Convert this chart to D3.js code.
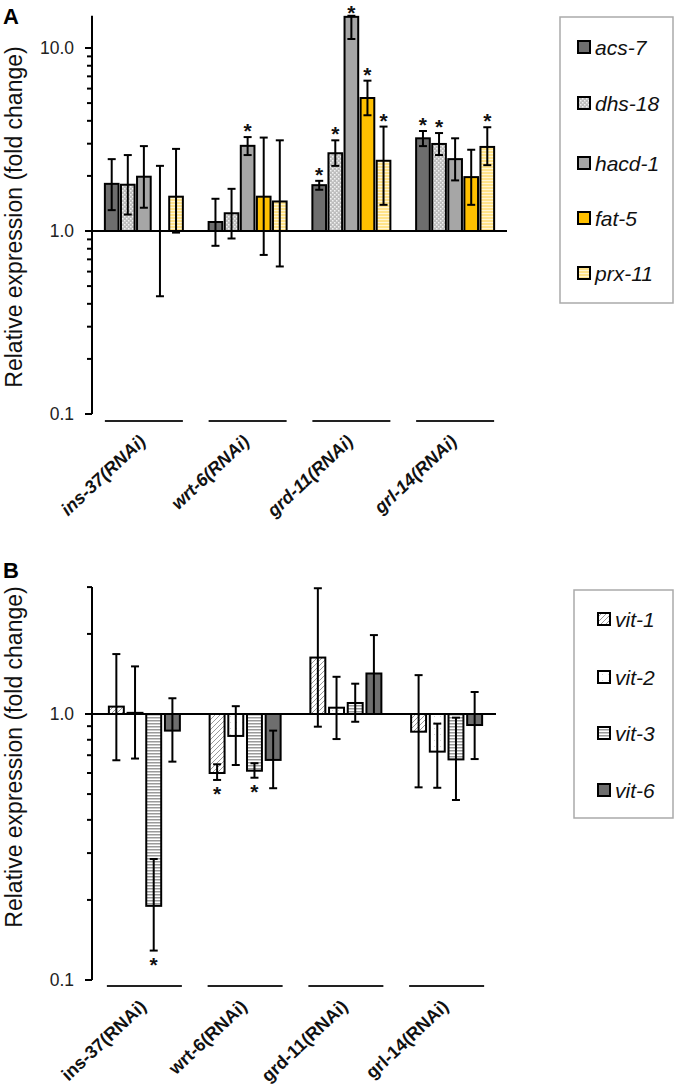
<!DOCTYPE html>
<html><head><meta charset="utf-8">
<script src="https://cdn.jsdelivr.net/npm/d3@7"></script>
<style>
body{margin:0;background:#fff;}
svg{font-family:"Liberation Sans",Arial,sans-serif;}
</style></head>
<body>
<svg id="chart" width="677" height="1090"></svg>
<script>
// ---------- Panel A data ----------
const aGroups = ["ins-37(RNAi)","wrt-6(RNAi)","grd-11(RNAi)","grl-14(RNAi)"];
const aGenes = ["acs-7","dhs-18","hacd-1","fat-5","prx-11"];
const aValues = [
  [1.81,1.79,1.98,1.00,1.54],
  [1.12,1.25,2.92,1.54,1.45],
  [1.78,2.66,14.8,5.33,2.42],
  [3.21,2.99,2.47,1.97,2.88]
];
const aErrHigh = [
  [2.47,2.60,2.91,2.27,2.81],
  [1.50,1.70,3.26,3.24,3.13],
  [1.88,3.13,15.0,6.63,3.72],
  [3.52,3.43,3.21,2.78,3.69]
];
const aErrLow = [
  [1.30,1.23,1.34,0.44,0.98],
  [0.83,0.91,2.60,0.74,0.64],
  [1.68,2.27,11.2,4.29,1.39],
  [2.91,2.60,1.89,1.39,2.29]
];
const aSig = [
  [0,0,0,0,0],
  [0,0,1,0,0],
  [1,1,1,1,1],
  [1,1,0,0,1]
];
const aTicks = [0.1,1,10];
const aTickLabels = ["0.1","1.0","10.0"];

// ---------- Panel B data ----------
const bGroups = ["ins-37(RNAi)","wrt-6(RNAi)","grd-11(RNAi)","grl-14(RNAi)"];
const bGenes = ["vit-1","vit-2","vit-3","vit-6"];
const bValues = [
  [1.066,1.01,0.19,0.866],
  [0.60,0.827,0.612,0.672],
  [1.63,1.056,1.10,1.42],
  [0.858,0.722,0.675,0.909]
];
const bErrHigh = [
  [1.68,1.51,0.285,1.146],
  [0.647,1.07,0.653,0.866],
  [2.97,1.38,1.30,1.98],
  [1.40,0.92,0.969,1.21]
];
const bErrLow = [
  [0.67,0.68,0.129,0.662],
  [0.565,0.643,0.576,0.526],
  [0.896,0.805,0.935,1.00],
  [0.53,0.528,0.475,0.677]
];
const bSig = [
  [0,0,1,0],
  [1,0,1,0],
  [0,0,0,0],
  [0,0,0,0]
];
const bTicks = [0.1,1];
const bTickLabels = ["0.1","1.0"];

const svg = d3.select("#chart");
const defs = svg.append("defs");

function pat(id, w, h, bg, draw){
  const p = defs.append("pattern").attr("id",id).attr("patternUnits","userSpaceOnUse")
    .attr("width",w).attr("height",h);
  p.append("rect").attr("width",w).attr("height",h).attr("fill",bg);
  draw(p);
}
pat("pDots",4,4,"#bdbdbd",p=>{
  p.append("rect").attr("x",0).attr("y",0).attr("width",1.5).attr("height",1.5).attr("fill","#f2f2f2");
  p.append("rect").attr("x",2).attr("y",2).attr("width",1.5).attr("height",1.5).attr("fill","#f2f2f2");
});
pat("pYellowStripe",4,3,"#ffe38a",p=>{
  p.append("rect").attr("x",0).attr("y",0).attr("width",4).attr("height",1).attr("fill","#fff6d6");
});
pat("pDiag",5,5,"#ffffff",p=>{
  p.append("path").attr("d","M-1,6 L6,-1 M-1,1 L1,-1 M4,6 L6,4").attr("stroke","#9a9a9a").attr("stroke-width",1);
});
pat("pWhiteDot",6,6,"#ffffff",p=>{
  p.append("rect").attr("x",2).attr("y",2).attr("width",1).attr("height",1).attr("fill","#d0d0d0");
});
pat("pHStripe",4,3,"#ffffff",p=>{
  p.append("rect").attr("x",0).attr("y",0).attr("width",4).attr("height",1.5).attr("fill","#9a9a9a");
});

const aFills = ["#6e6e6e","url(#pDots)","#a6a6a6","#ffc000","url(#pYellowStripe)"];
const bFills = ["url(#pDiag)","url(#pWhiteDot)","url(#pHStripe)","#6e6e6e"];

function drawPanel(cfg){
  const g = svg.append("g");
  const y = d3.scaleLog().domain([0.1, 1]).range([cfg.y01, cfg.y1]);
  const yTop = y(cfg.axisMax);
  const x = d3.scaleBand().domain(cfg.groups).range([cfg.x0, cfg.x1]);
  const inner = d3.scaleBand().domain(cfg.genes).range([-cfg.innerW/2, cfg.innerW/2]).paddingInner(cfg.innerPad);

  const minors = [];
  [0.1,1,10].forEach(d=>{ for(let k=2;k<=9;k++){ const v=d*k; if(v<=cfg.axisMax+1e-9) minors.push(v);} });
  g.selectAll(".minor").data(minors).join("line")
    .attr("x1",cfg.x0-5).attr("x2",cfg.x0).attr("y1",d=>y(d)).attr("y2",d=>y(d))
    .attr("stroke","#000").attr("stroke-width",2);
  g.selectAll(".major").data(cfg.ticks).join("line")
    .attr("x1",cfg.x0-7).attr("x2",cfg.x0).attr("y1",d=>y(d)).attr("y2",d=>y(d))
    .attr("stroke","#000").attr("stroke-width",2);
  g.selectAll(".tl").data(cfg.ticks).join("text")
    .attr("x",cfg.x0-18).attr("y",d=>y(d)).attr("dy","0.36em")
    .attr("text-anchor","end").attr("font-size",17.5).attr("fill","#222")
    .text((d,i)=>cfg.tickLabels[i]);
  g.append("line").attr("x1",cfg.x0).attr("x2",cfg.x0).attr("y1",yTop).attr("y2",y(0.1))
    .attr("stroke","#000").attr("stroke-width",2);

  cfg.groups.forEach((grp,gi)=>{
    const cx = x(grp)+x.bandwidth()/2 + cfg.shift;
    cfg.genes.forEach((gene,j)=>{
      const v = cfg.values[gi][j];
      const bx = cx + inner(gene);
      const y0 = y(1), yv = y(v);
      g.append("rect").attr("x",bx).attr("width",inner.bandwidth())
        .attr("y",Math.min(y0,yv)).attr("height",Math.abs(y0-yv))
        .attr("fill",cfg.fills[j]).attr("stroke","#000").attr("stroke-width",2);
      const ex = bx + inner.bandwidth()/2;
      const hi = cfg.errHigh[gi][j], lo = cfg.errLow[gi][j];
      const eg = g.append("g").attr("stroke","#000").attr("stroke-width",2);
      eg.append("line").attr("x1",ex).attr("x2",ex).attr("y1",y(hi)).attr("y2",y(lo));
      eg.append("line").attr("x1",ex-4).attr("x2",ex+4).attr("y1",y(hi)).attr("y2",y(hi));
      eg.append("line").attr("x1",ex-4).attr("x2",ex+4).attr("y1",y(lo)).attr("y2",y(lo));
      if(cfg.sig[gi][j]){
        const up = v >= 1;
        g.append("text").attr("x",ex).attr("y", up ? Math.max(y(hi)+1, 20) : y(lo)+21)
          .attr("text-anchor","middle").attr("font-size",21).attr("font-weight","bold")
          .attr("fill","#111").text("*");
      }
    });
    g.append("line").attr("x1",cx-cfg.ulW/2).attr("x2",cx+cfg.ulW/2)
      .attr("y1",cfg.ulY).attr("y2",cfg.ulY).attr("stroke","#222").attr("stroke-width",2);
    g.append("text").attr("transform",`translate(${cx+3},${cfg.ulY+22}) rotate(-43)`)
      .attr("text-anchor","end").attr("font-size",18).attr("font-weight","bold")
      .attr("font-style",cfg.labelItalic?"italic":"normal").attr("fill","#111").text(grp);
  });
  g.append("line").attr("x1",cfg.x0).attr("x2",cfg.baseEnd).attr("y1",y(1)).attr("y2",y(1))
    .attr("stroke","#000").attr("stroke-width",2);

  g.append("text").attr("transform",`translate(${cfg.yLabelX},${cfg.yLabelY}) rotate(-90)`)
    .attr("text-anchor","middle").attr("font-size",23).attr("fill","#111")
    .text("Relative expression (fold change)");
  g.append("text").attr("x",3).attr("y",cfg.letterY).attr("font-size",22).attr("font-weight","bold").text(cfg.letter);

  const L = cfg.legend;
  g.append("rect").attr("x",L.x).attr("y",L.y).attr("width",L.w).attr("height",L.h)
    .attr("fill","none").attr("stroke","#aaa").attr("stroke-width",1.5);
  cfg.genes.forEach((gene,j)=>{
    const yy = L.items[j];
    g.append("rect").attr("x",L.sx).attr("y",yy-6).attr("width",12).attr("height",12)
      .attr("fill",cfg.fills[j]).attr("stroke","#000").attr("stroke-width",2);
    g.append("text").attr("x",L.sx+17).attr("y",yy).attr("dy","0.36em")
      .attr("font-size",21).attr("font-style","italic").attr("fill","#111").text(gene);
  });
}

drawPanel({
  groups:aGroups, genes:aGenes, values:aValues, errHigh:aErrHigh, errLow:aErrLow, sig:aSig,
  ticks:aTicks, tickLabels:aTickLabels, fills:aFills,
  y01:414, y1:231, axisMax:15, x0:92, x1:507, baseEnd:507, shift:0,
  innerW:78, innerPad:0.15, ulY:421, ulW:78, labelItalic:true,
  yLabelX:22, yLabelY:217, letter:"A", letterY:24,
  legend:{x:560,y:17,w:113,h:286,sx:578,items:[47,103,163,218,273]}
});
drawPanel({
  groups:bGroups, genes:bGenes, values:bValues, errHigh:bErrHigh, errLow:bErrLow, sig:bSig,
  ticks:bTicks, tickLabels:bTickLabels, fills:bFills,
  y01:980, y1:714, axisMax:3, x0:92, x1:495, baseEnd:496, shift:2,
  innerW:71, innerPad:0.2, ulY:986, ulW:75, labelItalic:false,
  yLabelX:22, yLabelY:757, letter:"B", letterY:578,
  legend:{x:574,y:590,w:99,h:228,sx:598,items:[619,677,733,790]}
});
</script>
</body></html>
